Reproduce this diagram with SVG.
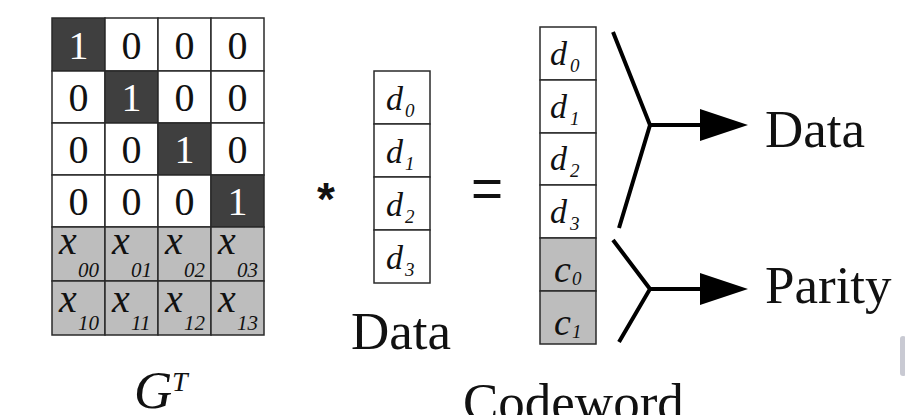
<svg xmlns="http://www.w3.org/2000/svg" width="905" height="415" viewBox="0 0 905 415">
<defs>
<style>
.c{stroke:#2a2a2a;stroke-width:1.5}
.w{fill:#ffffff}
.k{fill:#3f3f3f}
.g{fill:#bdbdbd}
.n{font-family:"Liberation Serif",serif;font-size:40px;text-anchor:middle;fill:#111}
.nw{font-family:"Liberation Serif",serif;font-size:40px;text-anchor:middle;fill:#ffffff}
.it{font-family:"Liberation Serif",serif;font-style:italic;fill:#111}
.lbl{font-family:"Liberation Serif",serif;font-size:53px;fill:#111}
.ln{fill:none;stroke:#000;stroke-width:4;stroke-linejoin:miter}
</style>
</defs>
<rect width="905" height="415" fill="#ffffff"/>

<g id="matrix">
<rect class="c k" x="52" y="18" width="53" height="53"/>
<rect class="c w" x="105" y="18" width="53" height="53"/>
<rect class="c w" x="158" y="18" width="53" height="53"/>
<rect class="c w" x="211" y="18" width="53" height="53"/>
<rect class="c w" x="52" y="71" width="53" height="52"/>
<rect class="c k" x="105" y="71" width="53" height="52"/>
<rect class="c w" x="158" y="71" width="53" height="52"/>
<rect class="c w" x="211" y="71" width="53" height="52"/>
<rect class="c w" x="52" y="123" width="53" height="52"/>
<rect class="c w" x="105" y="123" width="53" height="52"/>
<rect class="c k" x="158" y="123" width="53" height="52"/>
<rect class="c w" x="211" y="123" width="53" height="52"/>
<rect class="c w" x="52" y="175" width="53" height="52"/>
<rect class="c w" x="105" y="175" width="53" height="52"/>
<rect class="c w" x="158" y="175" width="53" height="52"/>
<rect class="c k" x="211" y="175" width="53" height="52"/>
<rect class="c g" x="52" y="227" width="53" height="54"/>
<rect class="c g" x="105" y="227" width="53" height="54"/>
<rect class="c g" x="158" y="227" width="53" height="54"/>
<rect class="c g" x="211" y="227" width="53" height="54"/>
<rect class="c g" x="52" y="281" width="53" height="54"/>
<rect class="c g" x="105" y="281" width="53" height="54"/>
<rect class="c g" x="158" y="281" width="53" height="54"/>
<rect class="c g" x="211" y="281" width="53" height="54"/>
<text class="nw" x="78.5" y="59">1</text><text class="n" x="131.5" y="59">0</text><text class="n" x="184.5" y="59">0</text><text class="n" x="237.5" y="59">0</text>
<text class="n" x="78.5" y="111">0</text><text class="nw" x="131.5" y="111">1</text><text class="n" x="184.5" y="111">0</text><text class="n" x="237.5" y="111">0</text>
<text class="n" x="78.5" y="163">0</text><text class="n" x="131.5" y="163">0</text><text class="nw" x="184.5" y="163">1</text><text class="n" x="237.5" y="163">0</text>
<text class="n" x="78.5" y="215">0</text><text class="n" x="131.5" y="215">0</text><text class="n" x="184.5" y="215">0</text><text class="nw" x="237.5" y="215">1</text>
<text class="it" font-size="40" x="59" y="254">x</text><text class="it" font-size="21" x="78" y="277">00</text>
<text class="it" font-size="40" x="112" y="254">x</text><text class="it" font-size="21" x="131" y="277">01</text>
<text class="it" font-size="40" x="165" y="254">x</text><text class="it" font-size="21" x="184" y="277">02</text>
<text class="it" font-size="40" x="218" y="254">x</text><text class="it" font-size="21" x="237" y="277">03</text>
<text class="it" font-size="40" x="59" y="312">x</text><text class="it" font-size="21" x="78" y="330">10</text>
<text class="it" font-size="40" x="112" y="312">x</text><text class="it" font-size="21" x="131" y="330">11</text>
<text class="it" font-size="40" x="165" y="312">x</text><text class="it" font-size="21" x="184" y="330">12</text>
<text class="it" font-size="40" x="218" y="312">x</text><text class="it" font-size="21" x="237" y="330">13</text>
</g>

<g id="matrix-label">
<text class="it" font-size="53" x="134" y="408">G</text>
<text class="it" font-size="28" x="172" y="391">T</text>
</g>

<g id="multiply">
<text x="317" y="215" font-family="Liberation Sans, sans-serif" font-weight="bold" font-size="46" fill="#111">*</text>
</g>

<g id="data-vector">
<rect class="c w" x="374" y="71" width="56" height="53"/>
<rect class="c w" x="374" y="124" width="56" height="53"/>
<rect class="c w" x="374" y="177" width="56" height="53"/>
<rect class="c w" x="374" y="230" width="56" height="53"/>
<text class="it" font-size="34" x="386" y="110">d</text><text class="it" font-size="19" x="405" y="117">0</text>
<text class="it" font-size="34" x="386" y="163">d</text><text class="it" font-size="19" x="405" y="170">1</text>
<text class="it" font-size="34" x="386" y="216">d</text><text class="it" font-size="19" x="405" y="223">2</text>
<text class="it" font-size="34" x="386" y="269">d</text><text class="it" font-size="19" x="405" y="276">3</text>
</g>

<g id="data-label">
<text class="lbl" x="351" y="349">Data</text>
</g>

<g id="equals">
<text x="471" y="207" font-family="Liberation Sans, sans-serif" font-size="55" fill="#111">=</text>
</g>

<g id="codeword-vector">
<rect class="c w" x="540" y="27" width="56" height="53"/>
<rect class="c w" x="540" y="80" width="56" height="53"/>
<rect class="c w" x="540" y="133" width="56" height="52"/>
<rect class="c w" x="540" y="185" width="56" height="53"/>
<rect class="c g" x="540" y="238" width="56" height="53"/>
<rect class="c g" x="540" y="291" width="56" height="53"/>
<text class="it" font-size="34" x="550" y="65">d</text><text class="it" font-size="19" x="570" y="72">0</text>
<text class="it" font-size="34" x="550" y="118">d</text><text class="it" font-size="19" x="570" y="125">1</text>
<text class="it" font-size="34" x="550" y="170">d</text><text class="it" font-size="19" x="570" y="177">2</text>
<text class="it" font-size="34" x="550" y="223">d</text><text class="it" font-size="19" x="570" y="230">3</text>
<text class="it" font-size="38" x="554" y="282">c</text><text class="it" font-size="19" x="572" y="285">0</text>
<text class="it" font-size="38" x="554" y="335">c</text><text class="it" font-size="19" x="572" y="338">1</text>
</g>

<g id="codeword-label">
<text class="lbl" x="463" y="420">Codeword</text>
</g>

<g id="connectors">
<polyline class="ln" points="613,32 650,125 619,228"/>
<line class="ln" x1="650" y1="125" x2="702" y2="125"/>
<polygon points="700,109 748,125 700,141" fill="#000"/>
<polyline class="ln" points="613,240 650,289 619,342"/>
<line class="ln" x1="650" y1="289" x2="702" y2="289"/>
<polygon points="700,273 748,289 700,305" fill="#000"/>
</g>

<g id="out-data">
<text class="lbl" x="765" y="147">Data</text>
</g>
<g id="out-parity">
<text class="lbl" x="765" y="303">Parity</text>
</g>

<rect x="900" y="336" width="6" height="40" rx="3" fill="#c9cad3"/>
</svg>
